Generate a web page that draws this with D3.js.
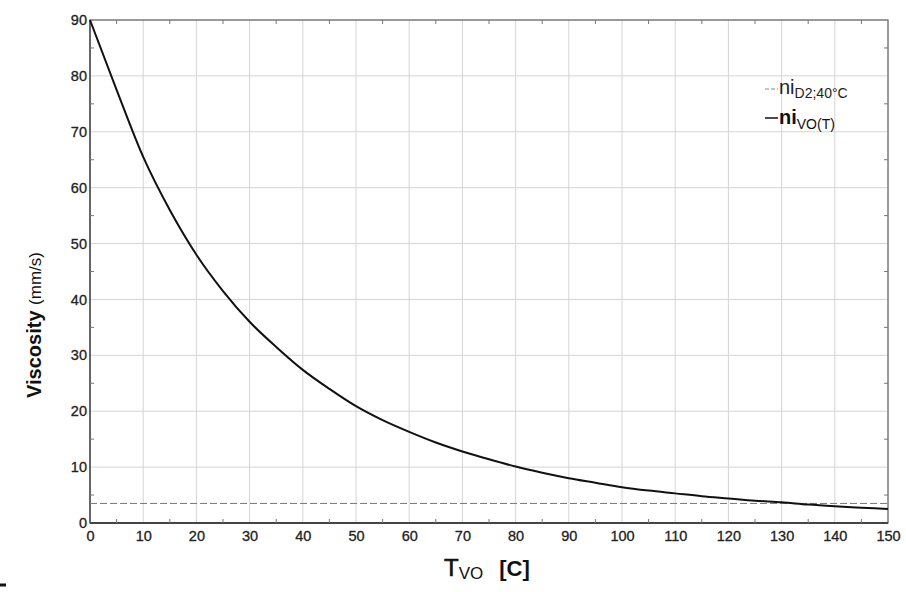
<!DOCTYPE html>
<html lang="en">
<head>
    <meta charset="UTF-8">
    <title>Viscosity vs temperature</title>
    <style>
        body { margin: 0; background: #fff; }
        svg { display: block; font-family: "Liberation Sans", Arial, sans-serif; }
    </style>
</head>
<body>
    <div id="graphArea"></div>
    <script src="https://d3js.org/d3.v7.min.js"></script>
    <script>
        // temperature (C) and vegetable oil viscosity
        const temps = [0, 5, 10, 15, 20, 25, 30, 35, 40, 45, 50, 55, 60, 65, 70, 75,
                       80, 85, 90, 95, 100, 105, 110, 115, 120, 125, 130, 135, 140, 145, 150];
        const niVO = [90, 77.5, 65.5, 56, 48, 41.5, 36, 31.5, 27.4, 24, 20.9, 18.4, 16.3, 14.4, 12.8, 11.4,
                      10.1, 9, 8, 7.2, 6.4, 5.8, 5.3, 4.8, 4.4, 4.0, 3.7, 3.3, 3.0, 2.75, 2.5];
        const niD2 = 3.5; // diesel at 40 C, constant
        const xTicks = d3.range(0, 151, 10);
        const yTicks = d3.range(0, 91, 10);
        const xMinor = d3.range(5, 150, 10);
        const yMinor = d3.range(5, 90, 10);

        const W = 906, H = 592;
        const margin = { top: 20, right: 18, bottom: 69, left: 90 };
        const width = W - margin.left - margin.right;
        const height = H - margin.top - margin.bottom;

        const svg = d3.select("#graphArea")
            .append("svg")
            .attr("width", W)
            .attr("height", H);

        const g = svg.append("g")
            .attr("transform", `translate(${margin.left}, ${margin.top})`);

        const x = d3.scaleLinear().domain([0, 150]).range([0, width]);
        const y = d3.scaleLinear().domain([0, 90]).range([height, 0]);

        // grid
        g.append("g")
            .selectAll("line")
            .data(xTicks)
            .join("line")
            .attr("x1", d => x(d)).attr("x2", d => x(d))
            .attr("y1", 0).attr("y2", height)
            .attr("stroke", "#d4d4d4");

        g.append("g")
            .selectAll("line")
            .data(yTicks)
            .join("line")
            .attr("x1", 0).attr("x2", width)
            .attr("y1", d => y(d)).attr("y2", d => y(d))
            .attr("stroke", "#d4d4d4");

        // axes with labels
        const xAxis = g.append("g")
            .attr("transform", `translate(0, ${height})`)
            .call(d3.axisBottom(x).tickValues(xTicks).tickSize(0).tickPadding(8));
        const yAxis = g.append("g")
            .call(d3.axisLeft(y).tickValues(yTicks).tickSize(0).tickPadding(3));
        [xAxis, yAxis].forEach(a => {
            a.select(".domain").remove();
            a.selectAll("text")
                .attr("fill", "#222")
                .attr("stroke", "#222")
                .attr("stroke-width", 0.3)
                .style("font-size", "14.5px")
                .style("font-family", "Liberation Sans, Arial, sans-serif");
        });

        // frame
        g.append("rect")
            .attr("width", width).attr("height", height)
            .attr("fill", "none")
            .attr("stroke", "#666")
            .attr("stroke-width", 1.2);
        g.append("line")
            .attr("x1", 0).attr("x2", width)
            .attr("y1", height).attr("y2", height)
            .attr("stroke", "#444").attr("stroke-width", 2);
        g.append("line")
            .attr("x1", 0).attr("x2", 0)
            .attr("y1", 0).attr("y2", height)
            .attr("stroke", "#555").attr("stroke-width", 1.5);

        // minor inner ticks on all four sides
        const tk = g.append("g").attr("stroke", "#777");
        xMinor.forEach(v => {
            tk.append("line").attr("x1", x(v)).attr("x2", x(v)).attr("y1", height).attr("y2", height - 4);
            tk.append("line").attr("x1", x(v)).attr("x2", x(v)).attr("y1", 0).attr("y2", 4);
        });
        yMinor.forEach(v => {
            tk.append("line").attr("x1", 0).attr("x2", 4).attr("y1", y(v)).attr("y2", y(v));
            tk.append("line").attr("x1", width).attr("x2", width - 4).attr("y1", y(v)).attr("y2", y(v));
        });

        // diesel reference line
        g.append("line")
            .attr("x1", x(0)).attr("x2", x(150))
            .attr("y1", y(niD2)).attr("y2", y(niD2))
            .attr("stroke", "#777")
            .attr("stroke-width", 1)
            .attr("stroke-dasharray", "7,3");

        // vegetable oil curve
        const data = temps.map((t, i) => ({ t: t, v: niVO[i] }));
        g.append("path")
            .datum(data)
            .attr("fill", "none")
            .attr("stroke", "#111")
            .attr("stroke-width", 2)
            .attr("d", d3.line()
                .curve(d3.curveMonotoneX)
                .x(d => x(d.t))
                .y(d => y(d.v)));

        // legend
        const leg = svg.append("g");
        leg.append("line")
            .attr("x1", 765).attr("x2", 778).attr("y1", 89).attr("y2", 89)
            .attr("stroke", "#888").attr("stroke-dasharray", "4,2");
        const t1 = leg.append("text").attr("x", 779).attr("y", 94).attr("fill", "#222");
        t1.append("tspan").style("font-size", "20px").text("ni");
        t1.append("tspan").attr("dy", 4).style("font-size", "14px").text("D2;40°C");

        leg.append("line")
            .attr("x1", 765).attr("x2", 778).attr("y1", 118).attr("y2", 118)
            .attr("stroke", "#111").attr("stroke-width", 1.5);
        const t2 = leg.append("text").attr("x", 779).attr("y", 124).attr("fill", "#111");
        t2.append("tspan").style("font-size", "20px").style("font-weight", "bold").text("ni");
        t2.append("tspan").attr("dy", 5).style("font-size", "14px").text("VO(T)");

        // y axis title
        const yl = svg.append("text")
            .attr("transform", `translate(41, 325) rotate(-90)`)
            .attr("text-anchor", "middle")
            .attr("fill", "#111");
        yl.append("tspan").style("font-size", "20px").style("font-weight", "bold").text("Viscosity ");
        yl.append("tspan").style("font-size", "17px").text("(mm/s)");

        // x axis title
        const xl = svg.append("text")
            .attr("x", 444).attr("y", 576)
            .attr("fill", "#111");
        xl.append("tspan").style("font-size", "24px").attr("stroke", "#111").attr("stroke-width", 0.6).text("T");
        xl.append("tspan").attr("dy", 3).style("font-size", "17px").text("VO");
        xl.append("tspan").attr("dy", -3).attr("dx", 16).style("font-size", "22px").style("font-weight", "bold").text("[C]");

        // stray mark at the bottom left of the original image
        svg.append("line")
            .attr("x1", 0).attr("x2", 6).attr("y1", 585).attr("y2", 585)
            .attr("stroke", "#111").attr("stroke-width", 3);
    </script>
</body>
</html>
